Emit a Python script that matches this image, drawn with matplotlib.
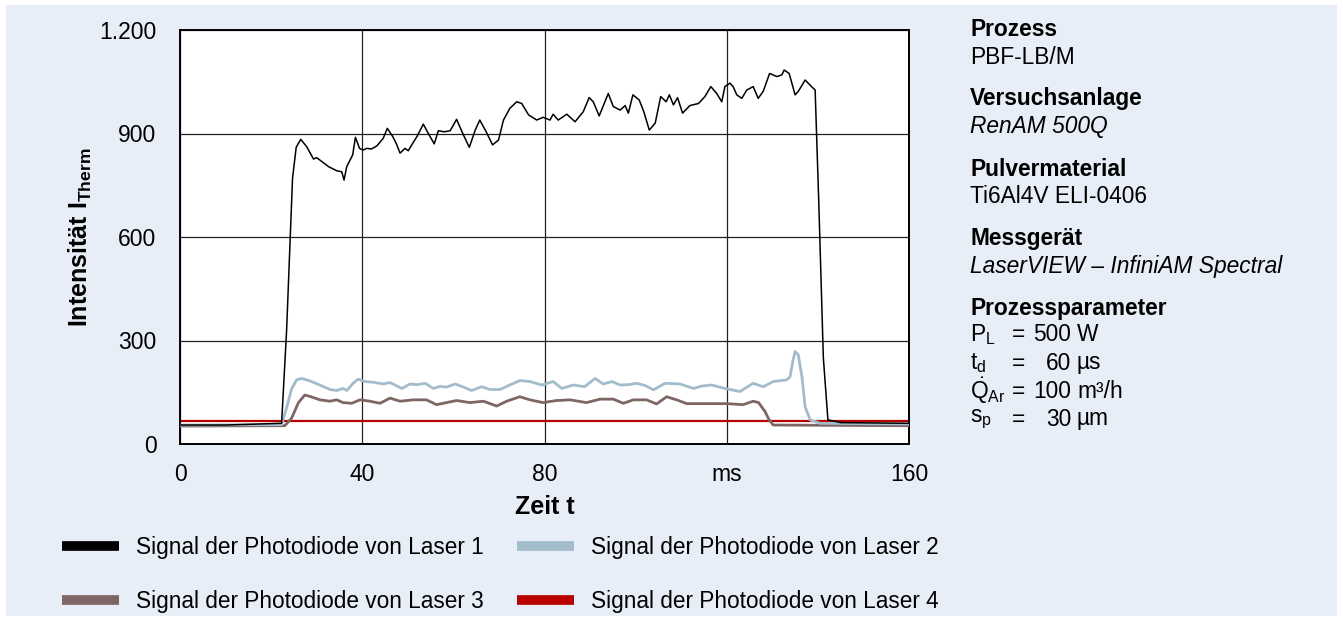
import matplotlib
matplotlib.use("Agg")
import matplotlib.pyplot as plt
from matplotlib.lines import Line2D
from matplotlib.patches import Rectangle

plt.rcParams["font.family"] = ["Liberation Sans", "DejaVu Sans"]
plt.rcParams["mathtext.fontset"] = "custom"
plt.rcParams["mathtext.rm"] = "Liberation Sans"
plt.rcParams["mathtext.it"] = "Liberation Sans:italic"
plt.rcParams["mathtext.bf"] = "Liberation Sans:bold"

# time axis in ms, intensity values
t_laser1 = [0, 10, 22.3, 23.4, 24.7, 25.5, 26.5, 27.8, 28.5, 29.3, 30.0, 30.7, 31.5, 32.6,
            33.5, 34.4, 35.5, 36.0, 36.6, 37.9, 38.5, 39.4, 40.2, 41.0, 42.0, 43.2, 44.6,
            45.5, 46.7, 47.5, 48.3, 49.4, 50.1, 51.0, 52.0, 53.4, 54.5, 55.8, 56.7, 58.0,
            59.3, 60.7, 62.2, 63.5, 64.8, 65.8, 67.2, 68.6, 69.9, 71.0, 72.4, 73.9, 75.0,
            76.5, 78.3, 79.7, 81.2, 81.9, 83.0, 84.9, 86.7, 88.5, 89.8, 90.7, 92.0, 94.0,
            95.1, 96.6, 97.7, 98.4, 99.4, 100.8, 101.8, 103.0, 104.3, 105.5, 106.7, 107.4,
            108.3, 109.2, 110.3, 111.9, 113.8, 115.2, 116.5, 117.8, 118.9, 119.6, 120.7,
            121.4, 122.2, 123.3, 124.4, 125.8, 126.9, 128.0, 129.4, 131.0, 132.1, 132.6,
            133.7, 135.0, 135.7, 137.2, 138.6, 139.4, 140.2, 141.2, 142.2, 145, 160]
i_laser1 = [55, 55, 60, 330, 770, 860, 883, 862, 845, 826, 830, 823, 815, 804,
            798, 792, 789, 765, 804, 838, 889, 857, 852, 857, 855, 864, 886,
            915, 891, 870, 843, 857, 850, 870, 891, 927, 900, 870, 908, 905,
            908, 941, 896, 860, 910, 939, 905, 867, 881, 939, 973, 992, 987,
            954, 939, 947, 939, 956, 939, 956, 934, 963, 1004, 992, 951, 1016,
            978, 968, 981, 959, 1012, 997, 963, 910, 930, 1007, 992, 1012,
            983, 1004, 959, 981, 987, 1007, 1036, 1016, 992, 1036, 1046,
            1036, 1012, 1002, 1026, 1036, 1002, 1022, 1074, 1065, 1070, 1084,
            1074, 1012, 1022, 1055, 1036, 1026, 700, 250, 70, 62, 60]

t_laser2 = [0, 22.3, 23.5, 24.5, 25.6, 26.7, 28.5, 30.7, 32.9, 34.4, 35.8, 36.6, 38.0,
            39.1, 40.6, 42.4, 44.6, 46.1, 48.7, 50.5, 52.0, 53.8, 55.6, 57.1, 58.5,
            60.4, 62.2, 64.0, 66.2, 68.0, 70.2, 72.4, 74.6, 76.8, 79.4, 81.9, 83.8,
            86.3, 88.8, 91.1, 92.9, 94.8, 96.6, 98.5, 100.2, 102.0, 103.9, 106.5,
            109.7, 112.7, 114.5, 116.7, 119.6, 122.9, 125.8, 128.0, 130.2, 133.2,
            133.9, 134.5, 135.0, 135.7, 136.5, 137.2, 138.3, 140.5, 160]
i_laser2 = [55, 56, 110, 160, 186, 190, 183, 171, 158, 155, 161, 155, 176,
            188, 181, 179, 174, 178, 161, 174, 172, 176, 161, 167, 165,
            174, 165, 155, 166, 158, 158, 171, 184, 181, 171, 181, 161,
            171, 166, 190, 174, 181, 171, 172, 176, 170, 157, 176,
            174, 161, 168, 171, 161, 152, 176, 166, 181, 186,
            195, 240, 268, 258, 195, 108, 70, 60, 58]

t_laser3 = [0, 23.0, 24.5, 26.0, 27.4, 28.5, 30.7, 32.9, 34.4, 35.8, 37.7, 39.5, 41.7,
            43.9, 46.1, 48.3, 51.2, 54.1, 56.3, 58.5, 60.7, 63.6, 66.6, 69.5, 71.7,
            74.6, 76.8, 79.7, 82.6, 85.6, 89.2, 92.2, 95.1, 97.3, 99.5, 102.4, 104.6,
            106.8, 109.0, 111.2, 115.6, 120.0, 123.6, 125.8, 127.0, 128.4, 129.3,
            130.2, 160]
i_laser3 = [52, 53, 75, 120, 142, 138, 128, 124, 128, 120, 118, 128, 124,
            118, 133, 124, 128, 128, 114, 120, 126, 120, 124, 110, 124,
            137, 128, 120, 126, 128, 120, 130, 130, 118, 128, 128, 116,
            137, 128, 117, 117, 117, 114, 124, 120, 94, 70,
            55, 53]

t_laser4 = [0, 160]
i_laser4 = [66, 66]

series_labels = ["Signal der Photodiode von Laser 1", "Signal der Photodiode von Laser 2",
                 "Signal der Photodiode von Laser 3", "Signal der Photodiode von Laser 4"]
x_ticks = [0, 40, 80, 120, 160]
x_ticklabels = ["0", "40", "80", "ms", "160"]
y_ticks = [0, 300, 600, 900, 1200]
y_ticklabels = ["0", "300", "600", "900", "1.200"]

info_lines = [
    ("Prozess", "bold", "normal"),
    ("PBF-LB/M", "normal", "normal"),
    ("Versuchsanlage", "bold", "normal"),
    ("RenAM 500Q", "normal", "italic"),
    ("Pulvermaterial", "bold", "normal"),
    ("Ti6Al4V ELI-0406", "normal", "normal"),
    ("Messgerät", "bold", "normal"),
    ("LaserVIEW – InfiniAM Spectral", "normal", "italic"),
    ("Prozessparameter", "bold", "normal"),
]
param_symbols = [r"P$_\mathrm{L}$", r"t$_\mathrm{d}$", r"$\dot{\mathrm{Q}}_\mathrm{Ar}$", r"s$_\mathrm{p}$"]
param_numbers = ["500", "60", "100", "30"]
param_units = ["W", "µs", "m³/h", "µm"]

colors = ["#000000", "#A3BCCB", "#7D6664", "#B80000"]
bg = "#E8EEF8"

W, H = 1343, 621
fig = plt.figure(figsize=(W / 100, H / 100), dpi=100, facecolor="white")
fig.patches.append(Rectangle((6 / W, 5 / H), 1 - 12 / W, 1 - 10 / H,
                             transform=fig.transFigure, facecolor=bg,
                             edgecolor="none", zorder=-10))

ax = fig.add_axes([180 / W, 1 - 444 / H, (909 - 180) / W, (444 - 30) / H])
ax.set_facecolor("white")

ax.plot(t_laser4, i_laser4, color=colors[3], lw=1.6, zorder=2)
ax.plot(t_laser3, i_laser3, color=colors[2], lw=2.0, zorder=3)
ax.plot(t_laser2, i_laser2, color=colors[1], lw=2.0, zorder=4)
ax.plot(t_laser1, i_laser1, color=colors[0], lw=1.1, zorder=5)

ax.set_xlim(0, 160)
ax.set_ylim(0, 1200)
ax.set_xticks(x_ticks)
ax.set_xticklabels(x_ticklabels)
ax.set_yticks(y_ticks)
ax.set_yticklabels(y_ticklabels)
ax.tick_params(length=0, labelsize=16.5)
ax.tick_params(axis="y", pad=17)
ax.tick_params(axis="x", pad=14)
ax.grid(True, color="#222222", lw=0.9)
ax.set_axisbelow(True)
for s in ax.spines.values():
    s.set_linewidth(1.4)
    s.set_color("black")

ax.set_xlabel("Zeit t", fontsize=18, fontweight="bold", labelpad=6)
ax.set_ylabel(r"Intensität $\mathbf{I}_\mathbf{Therm}$", fontsize=18,
              fontweight="bold", labelpad=4)

# legend below the plot, filled column-wise -> order 1, 3, 2, 4
handles = [Line2D([], [], color=c, lw=7, solid_capstyle="butt")
           for c in (colors[0], colors[2], colors[1], colors[3])]
labels = [series_labels[0], series_labels[2], series_labels[1], series_labels[3]]
fig.legend(handles, labels, loc="upper left", bbox_to_anchor=(62 / W, 1 - 536 / H),
           ncol=2, frameon=False, fontsize=16.3, handlelength=2.5, handletextpad=0.75,
           columnspacing=1.5, labelspacing=1.36, borderpad=0, borderaxespad=0)

# info panel on the right
x0 = 970 / W
y_px = [30, 57, 99, 127, 169, 196, 239, 266, 308]
for (txt, weight, style), yp in zip(info_lines, y_px):
    fig.text(x0, 1 - yp / H, txt, fontsize=16.4, fontweight=weight, fontstyle=style,
             va="center", ha="left")
for k, yp in enumerate([335, 363, 391, 419]):
    y = 1 - yp / H
    fig.text(x0, y, param_symbols[k], fontsize=16.4, va="center", ha="left")
    fig.text(1012 / W, y, "=", fontsize=16.4, va="center", ha="left")
    fig.text(1071 / W, y, param_numbers[k], fontsize=16.4, va="center", ha="right")
    fig.text(1077 / W, y, param_units[k], fontsize=16.4, va="center", ha="left")

fig.savefig("out.png", dpi=100, facecolor=fig.get_facecolor())
